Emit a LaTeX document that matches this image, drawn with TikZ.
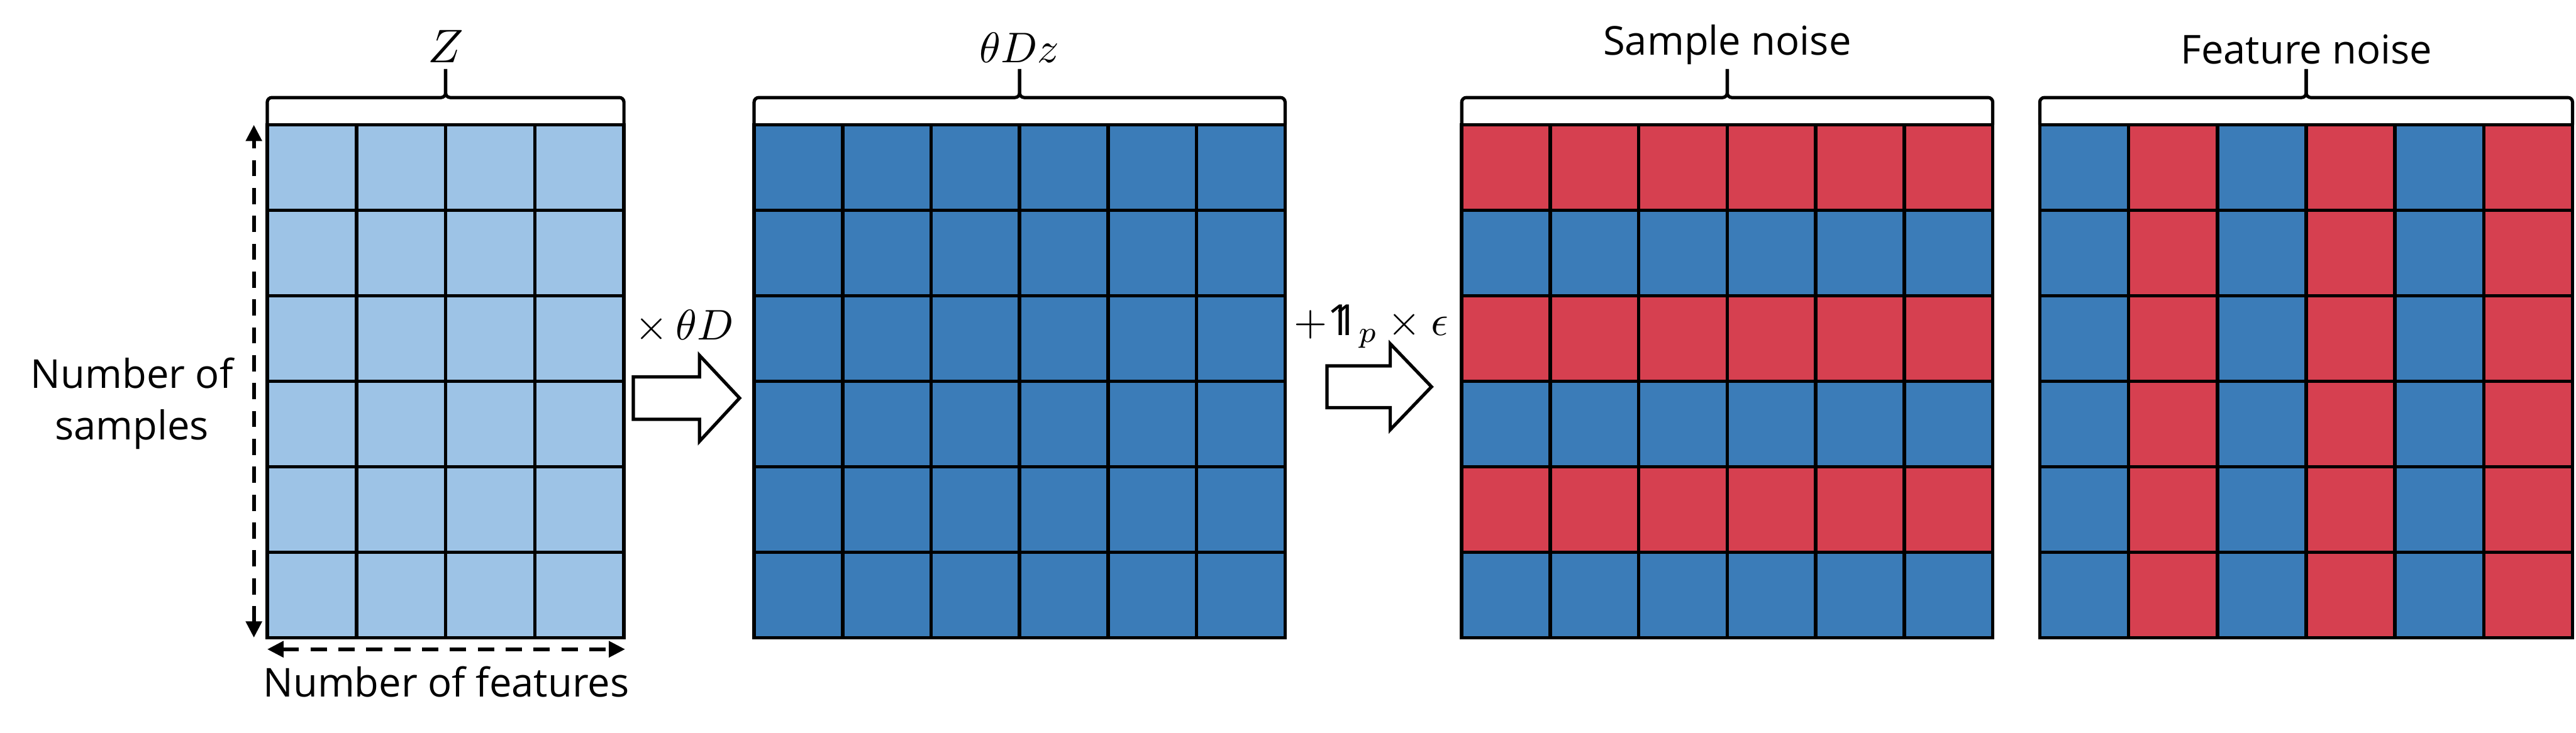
\documentclass[tikz,border=0pt]{standalone}
\usepackage{fontspec}
\setmainfont{Open Sans}
\usepackage{amsmath}
\usetikzlibrary{arrows.meta, calc}
\definecolor{LightBlue}{RGB}{157, 195, 230}
\definecolor{MidBlue}{RGB}{59, 124, 184}
\definecolor{NoiseRed}{RGB}{214, 64, 80}
\newcommand{\onevec}{\mathrm{1\mkern-7.5mu 1}}
\tikzset{
  gridline/.style={line width=1.7pt, black},
  bracebar/.style={line width=1.6pt, rounded corners=0.08cm},
  dimarrow/.style={line width=1.8pt, dash pattern=on 0.28cm off 0.2cm,
    {Triangle[length=0.28cm, width=0.27cm]}-{Triangle[length=0.28cm, width=0.27cm]}},
  blockarrow/.style={line width=1.6pt, fill=white, line join=miter},
  txt/.style={font=\fontsize{19.5}{25.3}\selectfont, inner sep=0pt},
  mth/.style={font=\fontsize{10}{12}\selectfont, inner sep=0pt, scale=2.1}
}

\begin{document}
\begin{tikzpicture}
    \useasboundingbox (0,0) rectangle (44.34,12.62);

    % Z
    \fill[LightBlue] (4.60,1.64) rectangle (10.74,10.47);
    \foreach \i in {1,2,3}
      \draw[gridline] ({4.60+\i*1.535},1.64) -- ({4.60+\i*1.535},10.47);
    \foreach \j in {1,...,5}
      \draw[gridline] (4.60,{1.64+\j*1.4717}) -- (10.74,{1.64+\j*1.4717});
    \draw[gridline] (4.60,1.64) rectangle (10.74,10.47);

    % theta D z
    \fill[MidBlue] (12.98,1.64) rectangle (22.12,10.47);
    \foreach \i in {1,...,5}
      \draw[gridline] ({12.98+\i*1.5233},1.64) -- ({12.98+\i*1.5233},10.47);
    \foreach \j in {1,...,5}
      \draw[gridline] (12.98,{1.64+\j*1.4717}) -- (22.12,{1.64+\j*1.4717});
    \draw[gridline] (12.98,1.64) rectangle (22.12,10.47);

    % Sample noise (filas)
    \fill[MidBlue] (25.16,1.64) rectangle (34.30,10.47);
    \foreach \j in {1,3,5}
      \fill[NoiseRed] (25.16,{1.64+\j*1.4717}) rectangle (34.30,{1.64+(\j+1)*1.4717});
    \foreach \i in {1,...,5}
      \draw[gridline] ({25.16+\i*1.5233},1.64) -- ({25.16+\i*1.5233},10.47);
    \foreach \j in {1,...,5}
      \draw[gridline] (25.16,{1.64+\j*1.4717}) -- (34.30,{1.64+\j*1.4717});
    \draw[gridline] (25.16,1.64) rectangle (34.30,10.47);

    % Feature noise (columnas)
    \fill[MidBlue] (35.11,1.64) rectangle (44.28,10.47);
    \foreach \i in {1,3,5}
      \fill[NoiseRed] ({35.11+\i*1.5283},1.64) rectangle ({35.11+(\i+1)*1.5283},10.47);
    \foreach \i in {1,...,5}
      \draw[gridline] ({35.11+\i*1.5283},1.64) -- ({35.11+\i*1.5283},10.47);
    \foreach \j in {1,...,5}
      \draw[gridline] (35.11,{1.64+\j*1.4717}) -- (44.28,{1.64+\j*1.4717});
    \draw[gridline] (35.11,1.64) rectangle (44.28,10.47);

    % Llaves
    \foreach \a/\b in {4.60/10.74, 12.98/22.12, 25.16/34.30, 35.11/44.28} {
      \pgfmathsetmacro{\c}{(\a+\b)/2}
      \draw[bracebar] (\a,10.47) -- (\a,10.94) -- (\c,10.94) -- (\c,11.43);
      \draw[bracebar] (\b,10.47) -- (\b,10.94) -- (\c,10.94) -- (\c,11.43);
    }
    \node (lblZ) [mth, scale=1.1, anchor=base] at (7.67,11.54) {$Z$};
    \node (lblTDz) [mth, anchor=base] at (17.55,11.54) {$\theta Dz$};
    \node (lblSample) [txt, anchor=base] at (29.73,11.67) {Sample noise};
    \node (lblFeature) [txt, anchor=base] at (39.70,11.52) {Feature noise};

    % Ejes
    \coordinate (sTop) at (4.37,10.47);
    \coordinate (sBot) at (4.37,1.64);
    \draw[dimarrow] (sBot) -- (sTop);
    \coordinate (fLeft) at (4.60,1.44);
    \coordinate (fRight) at (10.76,1.44);
    \draw[dimarrow] (fLeft) -- (fRight);
    \node (lblSamples) [txt, align=center] at (2.27,5.67) {Number of\\samples};
    \node (lblFeatures) [txt, anchor=base] at (7.68,0.62) {Number of features};

    % Flechas
    \draw[blockarrow] (10.90,5.40) -- (12.04,5.40) -- (12.04,5.02) -- (12.73,5.765)
      -- (12.04,6.50) -- (12.04,6.13) -- (10.90,6.13) -- cycle;
    \node (lblMult) [mth, anchor=base] at (11.78,6.77) {$\times\,\theta D$};
    \draw[blockarrow] (22.84,5.60) -- (23.93,5.60) -- (23.93,5.22) -- (24.64,5.96)
      -- (23.93,6.70) -- (23.93,6.32) -- (22.84,6.32) -- cycle;
    \node (lblNoise) [mth, anchor=base] at (23.60,6.84) {$+\onevec_p\times\epsilon$};
\end{tikzpicture}
\end{document}
